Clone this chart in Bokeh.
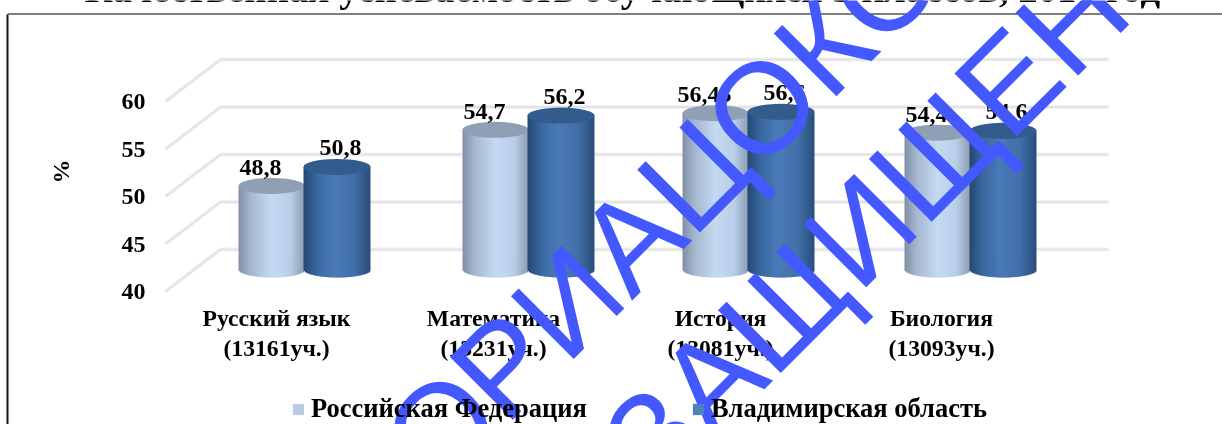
from bokeh.plotting import figure
from bokeh.embed import file_html
from bokeh.resources import INLINE
from bokeh.models import Legend, LegendItem, Range1d
from bokeh.core.properties import value
import numpy as np

TITLE = "Качественная успеваемость обучающихся 3 классов, 2016 год"
CATEGORIES = ["Русский язык\n(13161уч.)", "Математика\n(13231уч.)", "История\n(13081уч.)", "Биология\n(13093уч.)"]
SERIES_NAMES = ["Российская Федерация", "Владимирская область"]
RF_VALUES = [48.8, 54.7, 56.45, 54.4]
VLADIMIR_VALUES = [50.8, 56.2, 56.6, 54.6]
RF_LABELS = ["48,8", "54,7", "56,45", "54,4"]
VLADIMIR_LABELS = ["50,8", "56,2", "56,6", "54,6"]
Y_TICKS = [40, 45, 50, 55, 60]
Y_TICK_LABELS = ["40", "45", "50", "55", "60"]

W, H = 1222, 424
PX_X = 222.0
PX_Y = 9.5
X0 = 276.0
Y0 = 291.0
SERIF = "Liberation Serif"

p = figure(width=W, height=H, output_backend="svg", toolbar_location=None,
           min_border=0, outline_line_color=None,
           x_axis_location=None, y_axis_location=None,
           x_range=Range1d((0 - X0) / PX_X, (W - X0) / PX_X),
           y_range=Range1d(40 - (H - Y0) / PX_Y, 40 + Y0 / PX_Y))
p.styles = {"position": "fixed", "left": "0px", "top": "0px"}
p.grid.visible = False


def sx(px):
    return (px - X0) / PX_X


def sy(px):
    return 40 + (Y0 - px) / PX_Y


def label(x, y, text, size, align="center", baseline="middle", angle=0, color="black",
          font=SERIF, style="bold", line_height=1.2):
    p.text(x=x, y=y, text=text, text_font=value(font), text_font_style=style,
           text_font_size=size, text_align=align, text_baseline=baseline, angle=angle,
           text_color=color, text_line_height=line_height)


# chart-area border
p.segment(x0=[sx(7)], y0=[sy(14)], x1=[sx(7)], y1=[sy(430)], line_color="#111111", line_width=2)
p.segment(x0=[sx(7)], y0=[sy(13.5)], x1=[sx(1230)], y1=[sy(13.5)], line_color="#555555", line_width=1.5)

# y tick labels
label([sx(145)] * 5, Y_TICKS, Y_TICK_LABELS, "24px", align="right")

# x tick labels
LABEL_NUDGE = [0, -5, 0, -1]
label([sx(X0 + n) + i for i, n in enumerate(LABEL_NUDGE)], [sy(332.5)] * 4, CATEGORIES, "23.7px", line_height=1.17)

# 3D walls
BACK_DY = (291 - 249) / PX_Y
for color, lw in (("#f2f2f2", 4), ("#e3e3e3", 2)):
    p.segment(x0=[sx(220)] * 5, y0=[v + BACK_DY for v in Y_TICKS],
              x1=[sx(1108)] * 5, y1=[v + BACK_DY for v in Y_TICKS],
              line_color=color, line_width=lw)
    p.segment(x0=[sx(165)] * 5, y0=Y_TICKS, x1=[sx(220)] * 5,
              y1=[v + BACK_DY for v in Y_TICKS], line_color=color, line_width=lw)

# cylinders
BASE_DY = (291 - 269) / PX_Y
ELL_H = 16.0 / PX_Y
N = 44


def lerp_colors(stops, t):
    xs = [s[0] for s in stops]
    rgb = [np.interp(t, xs, [s[1][k] for s in stops]) for k in range(3)]
    return ["#%02x%02x%02x" % (int(r), int(g), int(b)) for r, g, b in zip(*rgb)]


LIGHT = [(0, (128, 144, 165)), (0.18, (165, 183, 207)), (0.5, (197, 218, 243)),
         (0.78, (186, 207, 233)), (1, (140, 156, 178))]
DARK = [(0, (36, 72, 115)), (0.2, (58, 104, 160)), (0.45, (74, 123, 184)),
        (0.75, (66, 112, 170)), (1, (42, 78, 122))]


def cylinder(pos, val, left_px, right_px, stops, cap):
    cx = (left_px + right_px) / 2
    width = right_px - left_px
    t = np.linspace(0, 1, N + 1)
    mid = (t[:-1] + t[1:]) / 2
    base = 40 + BASE_DY
    bottoms = base - ELL_H / 2 * np.sqrt(1 - (2 * mid - 1) ** 2)
    tops = np.full(N, val + BASE_DY)
    rights = np.minimum(t[1:] * width + 1.0, width)
    p.quad(left=sx(left_px + t[:-1] * width) + pos,
           right=sx(left_px + rights) + pos,
           bottom=bottoms, top=tops, fill_color=lerp_colors(stops, mid),
           line_color=None)
    p.ellipse(x=[sx(cx) + pos], y=[val + BASE_DY], width=[width / PX_X],
              height=[ELL_H], fill_color=cap, line_color=None)


GROUP_NUDGE = [0, 2 / PX_X, 0, 0]
for i, (a, b) in enumerate(zip(RF_VALUES, VLADIMIR_VALUES)):
    pos = i + GROUP_NUDGE[i]
    cylinder(pos, a, 238, 304, LIGHT, "#8f9fb4")
    cylinder(pos, b, 303, 370, DARK, "#315c8c")
    label([sx(260) + pos], [a + BASE_DY + ELL_H / 2 + 0.3], [RF_LABELS[i]], "24px", baseline="bottom")
    label([sx(340) + pos], [b + BASE_DY + ELL_H / 2 + 0.4], [VLADIMIR_LABELS[i]], "24px", baseline="bottom")

# title, cut by the page top as in the reference
label([sx(622)], [sy(-12)], [TITLE], "38.8px", baseline="alphabetic")

# "%" axis title
label([sx(60)], [sy(171)], ["%"], "24px", angle=np.pi / 2)

# legend
r1 = p.quad(left=[-9], right=[-8.9], bottom=[0], top=[1], fill_color="#b8cce4", line_color=None)
r2 = p.quad(left=[-9], right=[-8.9], bottom=[0], top=[1], fill_color="#4f81bd", line_color=None)
lg = Legend(items=[LegendItem(label=value(SERIES_NAMES[0]), renderers=[r1]),
                   LegendItem(label=value(SERIES_NAMES[1]), renderers=[r2])],
            orientation="horizontal", location=(291, 0), background_fill_alpha=0,
            border_line_width=0, border_line_color=None, label_text_font=SERIF,
            label_text_font_style="bold", label_text_font_size="26.5px",
            label_text_color="black", glyph_width=14, glyph_height=14, spacing=104,
            label_standoff=6, padding=0, margin=0)
p.add_layout(lg, "center")

# watermark
BLUE = "#4458ff"
ANGLE = np.pi / 4
for txt, ox, oy in (("О", 405, 463), ("РИАЦОКО", 473, 395), ("ЗАЩИЩЕНО", 625, 464)):
    label([sx(ox)], [sy(oy)], [txt], "129px", align="left", baseline="alphabetic",
          angle=ANGLE, color=BLUE, font="Liberation Sans", style="normal")

open("out.html", "w").write(file_html(p, INLINE))
